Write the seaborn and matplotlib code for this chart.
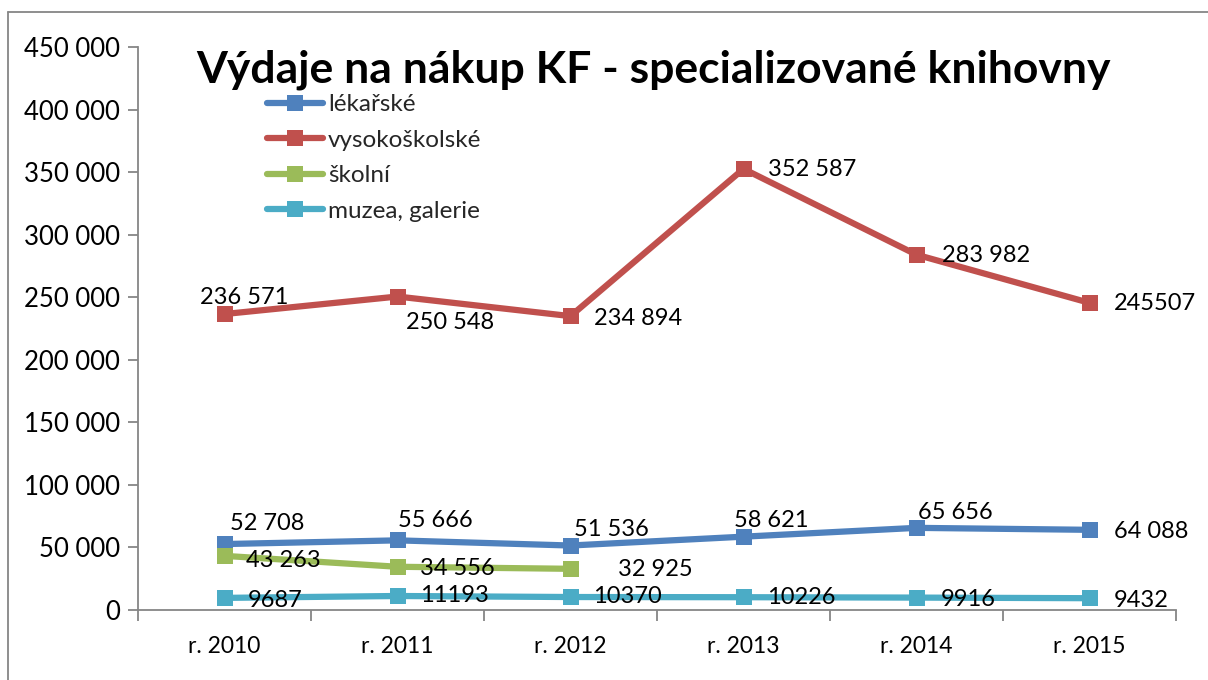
import matplotlib
matplotlib.use("Agg")
import matplotlib.pyplot as plt
from matplotlib.lines import Line2D
from matplotlib.ticker import FuncFormatter, FixedLocator
import numpy as np
import pandas as pd
import seaborn as sns

# ---- data ----
categories = ["r. 2010", "r. 2011", "r. 2012", "r. 2013", "r. 2014", "r. 2015"]
series_names = ["lékařské", "vysokoškolské", "školní", "muzea, galerie"]
lekarske = [52708, 55666, 51536, 58621, 65656, 64088]
vysokoskolske = [236571, 250548, 234894, 352587, 283982, 245507]
skolni = [43263, 34556, 32925, None, None, None]
muzea = [9687, 11193, 10370, 10226, 9916, 9432]
labels_lek = ["52 708", "55 666", "51 536", "58 621", "65 656", "64 088"]
labels_vys = ["236 571", "250 548", "234 894", "352 587", "283 982", "245507"]
labels_sko = ["43 263", "34 556", "32 925"]
labels_muz = ["9687", "11193", "10370", "10226", "9916", "9432"]
title = "Výdaje na nákup KF - specializované knihovny"

# ---- style ----
colors = ["#4F81BD", "#C0504D", "#9BBB59", "#4BACC6"]
# label offsets (pixels, dx, dy) relative to each point
off_lek = [(6, 21), (0, 20), (4, 16), (-9, 16), (2, 15), (24, -2)]
off_vys = [(-24, 17), (8, -26), (23, -2), (24, -1), (25, -1), (24, -1)]
off_sko = [(22, -5), (23, -2), (48, -1)]
off_muz = [(23, -3), (23, 0), (23, 1), (24, 0), (24, -2), (24, -2)]

sns.set_theme(style="white")
plt.rcParams["font.family"] = ["Lato", "DejaVu Sans"]

all_vals = [lekarske, vysokoskolske, skolni, muzea]
rows = []
for name, vals in zip(series_names, all_vals):
    for i, v in enumerate(vals):
        rows.append({"idx": i, "value": np.nan if v is None else v, "series": name})
df = pd.DataFrame(rows)

fig = plt.figure(figsize=(12.08, 6.80), dpi=100)
ax = fig.add_axes([138 / 1208, 1 - 610 / 680, (1176 - 138) / 1208, (610 - 47) / 680])

sns.lineplot(data=df, x="idx", y="value", hue="series", hue_order=series_names,
             palette=colors, marker="s", markersize=11, markeredgewidth=0,
             linewidth=4.5, legend=False, ax=ax, sort=False)

ax.set_xlim(-0.5, 5.5)
ax.set_ylim(0, 450000)
ax.set_xlabel("")
ax.set_ylabel("")
ax.set_yticks(np.arange(0, 450001, 50000))
ax.yaxis.set_major_formatter(FuncFormatter(lambda v, p: f"{int(v):,}".replace(",", " ")))
ax.set_xticks(range(len(categories)))
ax.set_xticklabels(categories)
ax.xaxis.set_minor_locator(FixedLocator(np.arange(-0.5, 5.6, 1)))
ax.tick_params(axis="x", which="major", length=0, pad=19, labelsize=16.5, colors="black")
ax.tick_params(axis="x", which="minor", length=8, width=1.3, color="#868686", direction="out", bottom=True)
ax.tick_params(axis="y", which="major", length=7, width=1.3, color="#868686", direction="out",
               left=True, labelsize=18.5, pad=6, labelcolor="black")
for s in ["top", "right"]:
    ax.spines[s].set_visible(False)
for s in ["left", "bottom"]:
    ax.spines[s].set_color("#868686")
    ax.spines[s].set_linewidth(1.3)

# data labels
for vals, labs, offs in zip(all_vals, [labels_lek, labels_vys, labels_sko, labels_muz],
                            [off_lek, off_vys, off_sko, off_muz]):
    for i, (lab, off) in enumerate(zip(labs, offs)):
        v = vals[i]
        ax.annotate(lab, (i, v), xytext=off, textcoords="offset pixels",
                    ha="left", va="center", fontsize=17, color="black", zorder=5)

# legend
handles = [Line2D([0], [0], color=c, lw=4.5, marker="s", markersize=11, markeredgewidth=0)
           for c in colors]
leg = ax.legend(handles, series_names, loc="upper left",
                bbox_to_anchor=(267 / 1208, 1 - 94 / 680), bbox_transform=fig.transFigure,
                frameon=False, fontsize=17.5, handlelength=2.3, handletextpad=0.2,
                labelspacing=0.6, borderaxespad=0, borderpad=0)

fig.text(654 / 1208, 1 - 70 / 680, title, ha="center", va="center",
         fontsize=32, fontweight="bold", color="black")

# outer frame (extends beyond image on right and bottom)
x0 = 8 / 1208
yt = 1 - 12 / 680
fig.add_artist(Line2D([x0, 1.01], [yt, yt], color="#868686", lw=1.3, transform=fig.transFigure))
fig.add_artist(Line2D([x0, x0], [-0.01, yt], color="#868686", lw=1.3, transform=fig.transFigure))

fig.savefig("out.png", dpi=100, facecolor="white")
